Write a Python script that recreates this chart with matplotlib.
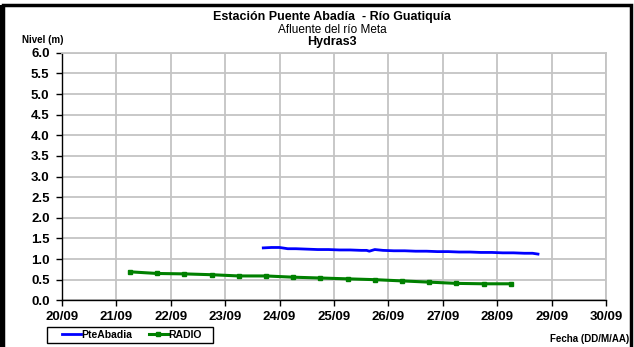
import matplotlib
matplotlib.use("Agg")
import matplotlib.pyplot as plt
from matplotlib.patches import Rectangle
from matplotlib.lines import Line2D

plt.rcParams["font.family"] = ["Liberation Sans", "DejaVu Sans"]

# day of September (fractional) and level in metres
pte_days = [23.70, 23.85, 24.00, 24.15, 24.30, 24.50, 24.70, 24.90, 25.10, 25.30,
            25.50, 25.60, 25.65, 25.75, 25.90, 26.10, 26.30, 26.50, 26.70, 26.90,
            27.10, 27.30, 27.50, 27.70, 27.90, 28.10, 28.30, 28.50, 28.65, 28.75]
pte_level = [1.27, 1.28, 1.28, 1.25, 1.25, 1.24, 1.23, 1.23, 1.22, 1.22,
             1.21, 1.21, 1.19, 1.23, 1.21, 1.20, 1.20, 1.19, 1.19, 1.18,
             1.18, 1.17, 1.17, 1.16, 1.16, 1.15, 1.15, 1.14, 1.14, 1.12]

radio_days = [21.25, 21.75, 22.25, 22.75, 23.25, 23.75, 24.25, 24.75,
              25.25, 25.75, 26.25, 26.75, 27.25, 27.75, 28.25]
radio_level = [0.69, 0.65, 0.64, 0.62, 0.59, 0.59, 0.56, 0.54,
               0.52, 0.50, 0.47, 0.44, 0.41, 0.40, 0.40]

x_ticks = [20, 21, 22, 23, 24, 25, 26, 27, 28, 29, 30]
x_labels = ["20/09", "21/09", "22/09", "23/09", "24/09", "25/09",
            "26/09", "27/09", "28/09", "29/09", "30/09"]
y_ticks = [0.0, 0.5, 1.0, 1.5, 2.0, 2.5, 3.0, 3.5, 4.0, 4.5, 5.0, 5.5, 6.0]

GRID = "#c4c4c4"

fig = plt.figure(figsize=(6.34, 3.47), dpi=100)
ax = fig.add_axes([0.0978, 0.1346, 0.858, 0.7134])

ax.plot(pte_days, pte_level, color="#0000ff", lw=2.0, label="PteAbadia")
ax.plot(radio_days, radio_level, color="#008000", lw=2.2, marker="s",
        markersize=2.8, label="RADIO")

ax.set_xlim(20, 30)
ax.set_ylim(0, 6)
ax.set_xticks(x_ticks)
ax.set_xticklabels(x_labels)
ax.set_yticks(y_ticks)
ax.set_yticklabels([f"{v:.1f}" for v in y_ticks])
ax.grid(True, color=GRID, lw=1.3)
ax.set_axisbelow(True)

for side in ("top", "right"):
    ax.spines[side].set_color(GRID)
    ax.spines[side].set_linewidth(1.3)
for side in ("left", "bottom"):
    ax.spines[side].set_color("black")
    ax.spines[side].set_linewidth(1.0)

ax.tick_params(axis="both", direction="out", length=4, width=1.0, colors="black")
ax.tick_params(axis="x", pad=4)
ax.tick_params(axis="y", pad=5)
for lbl in ax.get_xticklabels() + ax.get_yticklabels():
    lbl.set_fontweight("bold")
    lbl.set_fontsize(9.5)

# titles
fig.text(0.524, 0.951, "Estación Puente Abadía  - Río Guatiquía", ha="center",
         va="center", fontsize=9, fontweight="bold")
fig.text(0.524, 0.913, "Afluente del río Meta", ha="center", va="center", fontsize=8.5)
fig.text(0.524, 0.880, "Hydras3", ha="center", va="center", fontsize=9,
         fontweight="bold")
fig.text(0.035, 0.884, "Nivel (m)", ha="left", va="center", fontsize=7,
         fontweight="bold")
fig.text(0.992, 0.023, "Fecha (DD/M/AA)", ha="right", va="center", fontsize=7,
         fontweight="bold")

# legend (frame drawn separately so it can have wide side padding)
handles = [Line2D([], [], color="#0000ff", lw=2.0),
           Line2D([], [], color="#008000", lw=2.2, marker="s", markersize=2.8)]
leg = fig.legend(handles, ["PteAbadia", "RADIO"], ncol=2, loc="center left",
                 bbox_to_anchor=(0.0946, 0.0346), frameon=False,
                 prop={"size": 7.5, "weight": "bold"}, handlelength=1.8,
                 handletextpad=0.05, columnspacing=1.6, borderpad=0.2,
                 borderaxespad=0)
fig.patches.append(Rectangle((0.0741, 0.0115), 0.2618, 0.0461,
                             transform=fig.transFigure, fill=False,
                             edgecolor="black", lw=1.0))

# outer chart frame
fig.patches.append(Rectangle((0.005, -0.05), 0.99, 1.035, transform=fig.transFigure,
                             fill=False, edgecolor="black", lw=2.5))
fig.patches.append(Rectangle((0.0, -0.05), 0.008, 1.035, transform=fig.transFigure,
                             facecolor="black", edgecolor="none"))

fig.savefig("out.png", dpi=100)
